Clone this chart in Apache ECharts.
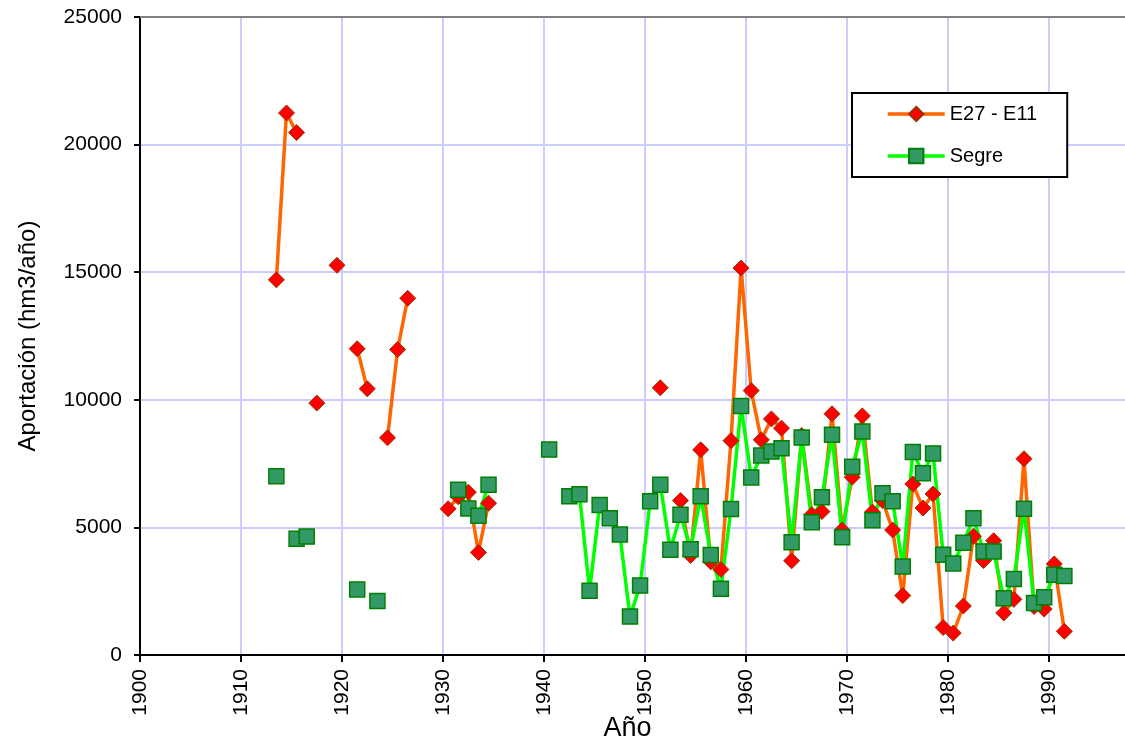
<!DOCTYPE html>
<html>
<head>
<meta charset="utf-8">
<script src="https://cdn.jsdelivr.net/npm/echarts@6/dist/echarts.min.js"></script>
<style>
  html, body { margin: 0; padding: 0; background: #fff; }
  #chart { width: 1125px; height: 742px; }
</style>
</head>
<body>
<div id="chart"></div>
<script>
// años hidrológicos (se dibujan a mitad de año)
const anios = [
  1913, 1914, 1915, 1916, 1917, 1918, 1919, 1920, 1921, 1922,
  1923, 1924, 1925, 1926, 1927, 1928, 1929, 1930, 1931, 1932,
  1933, 1934, 1935, 1936, 1937, 1938, 1939, 1940, 1941, 1942,
  1943, 1944, 1945, 1946, 1947, 1948, 1949, 1950, 1951, 1952,
  1953, 1954, 1955, 1956, 1957, 1958, 1959, 1960, 1961, 1962,
  1963, 1964, 1965, 1966, 1967, 1968, 1969, 1970, 1971, 1972,
  1973, 1974, 1975, 1976, 1977, 1978, 1979, 1980, 1981, 1982,
  1983, 1984, 1985, 1986, 1987, 1988, 1989, 1990, 1991
];

// E27 - E11 (hm3/año)
const e27 = [
  14700, 21240, 20470, null, 9870, null, 15270, null, 12000, 10430,
  null, 8510, 11970, 13980, null, null, null, 5730, 6200, 6380,
  4020, 5950, null, null, null, null, null, null, null, null,
  null, null, null, null, null, null, null, null, 10470, null,
  6050, 3900, 8040, 3650, 3350, 8400, 15160, 10360, 8430, 9250,
  8890, 3690, 8600, 5500, 5620, 9450, 4900, 6970, 9370, 5600,
  6050, 4900, 2330, 6700, 5760, 6310, 1080, 860, 1920, 4650,
  3700, 4480, 1650, 2180, 7690, 1900, 1800, 3570, 930
];

// Segre (hm3/año)
const segre = [
  7000, null, 4560, 4640, null, null, null, null, 2570, null,
  2120, null, null, null, null, null, null, null, 6480, 5740,
  5460, 6670, null, null, null, null, null, 8050, null, 6220,
  6300, 2520, 5880, 5360, 4720, 1510, 2720, 6020, 6670, 4120,
  5500, 4140, 6220, 3920, 2600, 5720, 9760, 6960, 7820, 7970,
  8100, 4420, 8520, 5200, 6180, 8630, 4610, 7380, 8760, 5280,
  6340, 6020, 3470, 7950, 7120, 7900, 3930, 3590, 4400, 5360,
  4060, 4060, 2220, 2980, 5730, 2040, 2260, 3140, 3100
];

const fuente = 'Liberation Sans, Arial, sans-serif';

function puntos(valores) {
  return anios.map((a, i) => [a + 0.5, valores[i] == null ? '-' : valores[i]]);
}

const chart = echarts.init(document.getElementById('chart'));

chart.setOption({
  animation: false,
  backgroundColor: '#fff',
  textStyle: { fontFamily: fuente, color: '#000' },
  grid: { left: 140, top: 17, right: 0, height: 638, outerBoundsMode: 'none' },
  legend: {
    orient: 'vertical',
    left: 852, top: 93,
    padding: [11, 30, 11, 34],
    itemGap: 22,
    itemWidth: 57, itemHeight: 18,
    backgroundColor: '#fff',
    borderColor: '#000', borderWidth: 2,
    lineStyle: { width: 3.5 },
    textStyle: { fontSize: 20, color: '#000', fontFamily: fuente },
    data: ['E27 - E11', 'Segre']
  },
  xAxis: [
    {
      type: 'value',
      min: 1900, max: 1997.5, interval: 10,
      name: 'Año',
      nameLocation: 'middle',
      nameGap: 60,
      nameMoveOverlap: false,
      nameTextStyle: { fontSize: 27, color: '#000', padding: [0, 10, 0, 0] },
      axisLine: { onZero: false, lineStyle: { color: '#000', width: 2 } },
      axisTick: { length: 7, lineStyle: { color: '#000', width: 2 } },
      axisLabel: { rotate: 90, fontSize: 21, color: '#000', margin: 14, showMaxLabel: false,
        formatter: v => String(v) },
      splitLine: { show: true, showMinLine: false, showMaxLine: false,
        lineStyle: { color: '#ccccff', width: 2 } }
    },
    {
      // borde superior del área de trazado
      type: 'value',
      position: 'top',
      min: 1900, max: 1997.5,
      axisLine: { onZero: false, lineStyle: { color: '#808080', width: 2 } },
      axisTick: { show: false },
      axisLabel: { show: false },
      splitLine: { show: false }
    }
  ],
  yAxis: {
    type: 'value',
    min: 0, max: 25000, interval: 5000,
    name: 'Aportación (hm3/año)',
    nameLocation: 'middle',
    nameGap: 100,
    nameMoveOverlap: false,
    nameTextStyle: { fontSize: 24, color: '#000' },
    axisLine: { show: true, lineStyle: { color: '#000', width: 2 } },
    axisTick: { show: true, length: 6, lineStyle: { color: '#000', width: 2 } },
    axisLabel: { fontSize: 21, color: '#000', margin: 18, formatter: v => String(v) },
    splitLine: { show: true, showMinLine: false, showMaxLine: false,
      lineStyle: { color: '#ccccff', width: 2 } }
  },
  series: [
    {
      name: 'E27 - E11',
      type: 'line',
      data: puntos(e27),
      connectNulls: false,
      symbol: 'diamond',
      symbolSize: 16,
      showAllSymbol: true,
      lineStyle: { color: '#ff6600', width: 3.5 },
      itemStyle: { color: '#ff0000', borderColor: '#993300', borderWidth: 1 }
    },
    {
      name: 'Segre',
      type: 'line',
      data: puntos(segre),
      connectNulls: false,
      symbol: 'rect',
      symbolSize: 15,
      showAllSymbol: true,
      lineStyle: { color: '#00ff00', width: 3.5 },
      itemStyle: { color: '#339966', borderColor: '#008000', borderWidth: 1.5 }
    }
  ]
});
</script>
</body>
</html>
